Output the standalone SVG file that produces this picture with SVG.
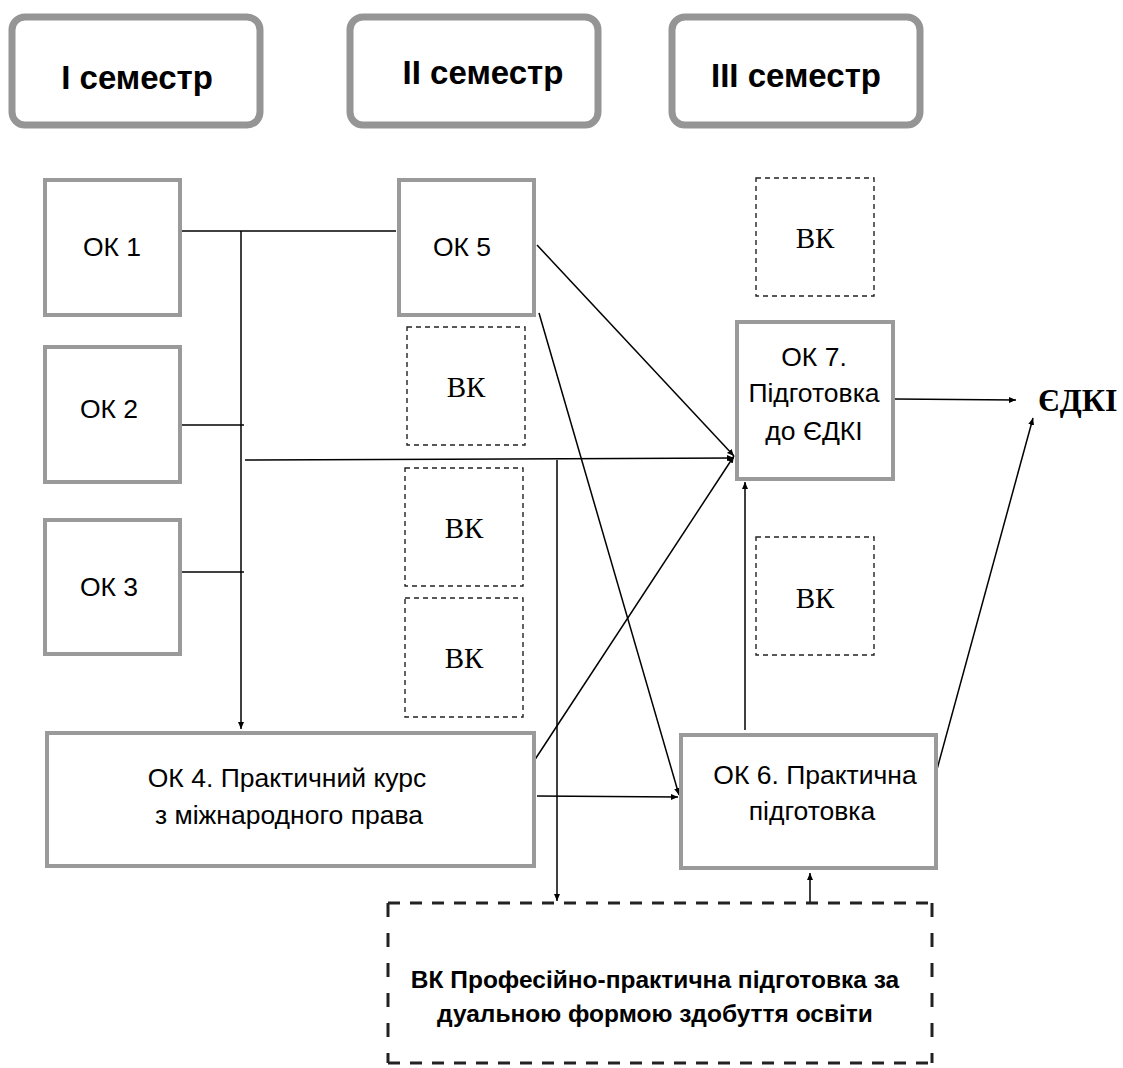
<svg xmlns="http://www.w3.org/2000/svg" width="1123" height="1068" viewBox="0 0 1123 1068">
<style>
.sem{fill:#fff;stroke:#959595;stroke-width:7}
.ok{fill:#fff;stroke:#9a9a9a;stroke-width:4}
.bk{fill:#fff;stroke:#222;stroke-width:1.4;stroke-dasharray:5 4}
.t{font-family:"Liberation Sans",Arial,sans-serif;font-size:26.5px;fill:#000;text-anchor:middle}
.st{font-family:"Liberation Sans",Arial,sans-serif;font-size:33px;font-weight:bold;fill:#000;text-anchor:middle}
.bt{font-family:"Liberation Serif","Times New Roman",serif;font-size:29px;fill:#000;text-anchor:middle}
.bb{font-family:"Liberation Sans",Arial,sans-serif;font-size:24.5px;font-weight:bold;fill:#000;text-anchor:middle}
.c{fill:none;stroke:#000;stroke-width:1.5}
</style>
<defs>
<marker id="a" markerWidth="8" markerHeight="8" refX="7" refY="4" orient="auto" markerUnits="userSpaceOnUse">
<path d="M0,1 L7,4 L0,7 Z" fill="#000"/>
</marker>
</defs>
<rect width="1123" height="1068" fill="#fff"/>
<g id="sem1"><rect class="sem" x="12" y="17" width="248" height="108" rx="13"/><text class="st" x="137" y="89">І семестр</text></g>
<g id="sem2"><rect class="sem" x="350" y="17" width="248" height="108" rx="13"/><text class="st" x="483" y="84">ІІ семестр</text></g>
<g id="sem3"><rect class="sem" x="672" y="17" width="248" height="108" rx="13"/><text class="st" x="796" y="87">ІІІ семестр</text></g>

<g id="connectors">
<line class="c" x1="182" y1="231" x2="396" y2="231"/>
<line class="c" x1="241" y1="231" x2="241" y2="729" marker-end="url(#a)"/>
<line class="c" x1="182" y1="425" x2="244" y2="425"/>
<line class="c" x1="182" y1="572" x2="244" y2="572"/>
<line class="c" x1="245" y1="460" x2="734" y2="458" marker-end="url(#a)"/>
<line class="c" x1="557" y1="460" x2="557" y2="901" marker-end="url(#a)"/>
<line class="c" x1="537" y1="245" x2="734" y2="456" marker-end="url(#a)"/>
<line class="c" x1="539" y1="313" x2="679" y2="795" marker-end="url(#a)"/>
<line class="c" x1="534" y1="761" x2="734" y2="456" marker-end="url(#a)"/>
<line class="c" x1="537" y1="796" x2="678" y2="797" marker-end="url(#a)"/>
<line class="c" x1="745" y1="730" x2="745" y2="482" marker-end="url(#a)"/>
<line class="c" x1="936" y1="773" x2="1033" y2="418" marker-end="url(#a)"/>
<line class="c" x1="895" y1="399" x2="1016" y2="400" marker-end="url(#a)"/>
<line class="c" x1="810" y1="903" x2="810" y2="873" marker-end="url(#a)"/>
</g>

<g id="ok1"><rect class="ok" x="45" y="180" width="135" height="135"/><text class="t" x="112" y="256">ОК 1</text></g>
<g id="ok2"><rect class="ok" x="45" y="347" width="135" height="135"/><text class="t" x="109" y="418">ОК 2</text></g>
<g id="ok3"><rect class="ok" x="45" y="520" width="135" height="134"/><text class="t" x="109" y="596">ОК 3</text></g>
<g id="ok5"><rect class="ok" x="399" y="180" width="135" height="135"/><text class="t" x="462" y="256">ОК 5</text></g>
<g id="bk1"><rect class="bk" x="407" y="327" width="118" height="118"/><text class="bt" x="466" y="397">ВК</text></g>
<g id="bk2"><rect class="bk" x="405" y="468" width="118" height="118"/><text class="bt" x="464" y="538">ВК</text></g>
<g id="bk3"><rect class="bk" x="405" y="598" width="118" height="119"/><text class="bt" x="464" y="668">ВК</text></g>
<g id="bk4"><rect class="bk" x="756" y="178" width="118" height="118"/><text class="bt" x="815" y="248">ВК</text></g>
<g id="bk5"><rect class="bk" x="756" y="537" width="118" height="118"/><text class="bt" x="815" y="608">ВК</text></g>
<g id="ok7"><rect class="ok" x="737" y="322" width="156" height="157"/>
<text class="t" x="814" y="366">ОК 7.</text><text class="t" x="814" y="402">Підготовка</text><text class="t" x="814" y="440">до ЄДКІ</text></g>
<g id="ok4"><rect class="ok" x="47" y="733" width="487" height="133"/>
<text class="t" x="287" y="787">ОК 4. Практичний курс</text><text class="t" x="289" y="824">з міжнародного права</text></g>
<g id="ok6"><rect class="ok" x="681" y="735" width="255" height="133"/>
<text class="t" x="815" y="784">ОК 6. Практична</text><text class="t" x="812" y="820">підготовка</text></g>
<g id="edki"><text x="1038" y="411" style="font-family:'Liberation Serif','Times New Roman',serif;font-size:32px;font-weight:bold;fill:#000">ЄДКІ</text></g>
<g id="vk-dual">
<line x1="388" y1="903" x2="932" y2="903" stroke="#222" stroke-width="3" stroke-dasharray="12 10"/>
<line x1="388" y1="1063" x2="932" y2="1063" stroke="#222" stroke-width="3" stroke-dasharray="12 10"/>
<line x1="388" y1="903" x2="388" y2="1063" stroke="#222" stroke-width="3" stroke-dasharray="14 16"/>
<line x1="932" y1="903" x2="932" y2="1063" stroke="#222" stroke-width="3" stroke-dasharray="14 16"/>
<text class="bb" x="655" y="988">ВК Професійно-практична підготовка за</text>
<text class="bb" x="655" y="1022">дуальною формою здобуття освіти</text>
</g>
</svg>
